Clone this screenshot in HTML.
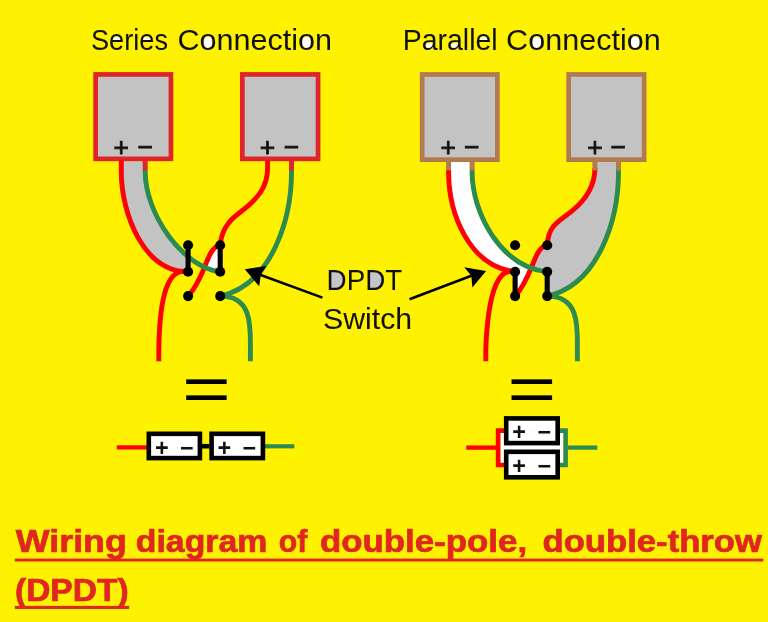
<!DOCTYPE html>
<html lang="en"><head><meta charset="utf-8"><title>Wiring diagram of double-pole, double-throw (DPDT)</title>
<style>
html,body{margin:0;padding:0;background:#FFF200;}
body{width:768px;height:622px;overflow:hidden;}
svg{display:block;will-change:transform;font-family:"Liberation Sans",Arial,sans-serif;}
.ttl{font-size:28.6px;fill:#111;}
.lbl{font-size:28.8px;fill:#111;}
.pm{font-size:26.4px;text-anchor:middle;fill:#111;stroke:#111;stroke-width:0.8px;}
.eq{font-size:62.5px;fill:#000;stroke:#000;stroke-width:0.25px;}
.pb{font-size:23.4px;font-weight:bold;text-anchor:middle;fill:#111;}
.cap{font-size:31px;font-weight:bold;fill:#E0261E;stroke:#E0261E;stroke-width:0.7px;}
</style></head><body>
<svg width="768" height="622" viewBox="0 0 768 622">
<rect width="768" height="622" fill="#FFF200"/>

<ellipse cx="208.0" cy="42.4" rx="4.9" ry="5.7" fill="#fff"/>
<ellipse cx="306.5" cy="42.4" rx="4.9" ry="5.7" fill="#fff"/>
<ellipse cx="536.7" cy="42.4" rx="4.9" ry="5.7" fill="#fff"/>
<ellipse cx="635.2" cy="42.4" rx="4.9" ry="5.7" fill="#fff"/>
<path d="M111.8,41.9 a4.9,5.1 0 0 1 9.8,0 z" fill="#fff"/>
<path d="M142.0,41.9 a4.9,5.1 0 0 1 9.8,0 z" fill="#fff"/>
<path d="M478.5,41.9 a4.9,5.1 0 0 1 9.8,0 z" fill="#fff"/>
<ellipse cx="429.3" cy="45.4" rx="3.8" ry="2.3" fill="#fff"/>
<ellipse cx="454.6" cy="45.4" rx="3.8" ry="2.3" fill="#fff"/>
<text class="ttl" y="49.7"><tspan x="91.0" textLength="77" lengthAdjust="spacingAndGlyphs">Series</tspan> <tspan x="177.4" textLength="154.6" lengthAdjust="spacingAndGlyphs">Connection</tspan></text>
<text class="ttl" y="49.7"><tspan x="402.7" textLength="95" lengthAdjust="spacingAndGlyphs">Parallel</tspan> <tspan x="506.1" textLength="154.6" lengthAdjust="spacingAndGlyphs">Connection</tspan></text>
<polygon fill="#C3C3C3" points="121.3,161.2 121.3,172.0 121.3,174.1 121.4,176.2 121.5,178.4 121.6,180.6 121.8,182.8 122.0,185.0 122.2,187.3 122.5,189.5 122.8,191.8 123.2,194.1 123.6,196.3 124.0,198.6 124.5,200.9 125.0,203.2 125.6,205.5 126.2,207.8 126.8,210.1 127.5,212.4 128.2,214.7 128.9,216.9 129.7,219.2 130.5,221.4 131.4,223.6 132.3,225.8 133.2,227.9 134.2,230.1 135.2,232.2 136.3,234.3 137.4,236.3 138.5,238.3 139.6,240.3 140.9,242.3 142.1,244.2 143.4,246.0 144.7,247.8 146.1,249.6 147.5,251.3 148.9,253.0 150.4,254.6 151.9,256.1 153.5,257.6 155.0,259.0 156.7,260.4 158.4,261.7 160.1,262.9 161.8,264.1 163.6,265.2 165.4,266.2 167.3,267.1 169.2,268.0 171.1,268.8 173.1,269.5 175.1,270.1 177.2,270.6 179.3,271.0 181.4,271.4 183.6,271.6 185.8,271.8 188.1,271.8 188.1,271.8 188.1,256.7 186.5,255.4 184.8,253.9 183.1,252.3 181.4,250.7 179.8,249.1 178.2,247.4 176.6,245.7 175.0,243.9 173.4,242.1 171.9,240.2 170.5,238.4 169.0,236.4 167.6,234.5 166.2,232.5 164.8,230.5 163.5,228.5 162.3,226.4 161.0,224.3 159.8,222.2 158.7,220.1 157.5,217.9 156.5,215.8 155.4,213.6 154.4,211.4 153.5,209.2 152.6,207.0 151.7,204.8 150.9,202.6 150.2,200.4 149.4,198.1 148.8,195.9 148.2,193.7 147.6,191.5 147.1,189.3 146.7,187.1 146.3,184.9 146.0,182.7 145.7,180.5 145.5,178.4 145.3,176.2 145.2,174.1 145.2,172.0 145.2,161.2"/>
<polygon fill="#fff" points="220.2,244.0 219.5,244.2 218.8,244.5 218.1,244.8 217.5,245.2 216.9,245.6 216.3,246.0 215.7,246.5 215.2,247.0 214.6,247.5 214.1,248.0 213.6,248.6 213.1,249.3 212.6,249.9 212.1,250.6 211.7,251.3 211.2,252.0 210.8,252.8 210.3,253.6 209.9,254.4 209.5,255.2 209.1,256.1 208.7,256.9 208.3,257.8 207.9,258.7 207.5,259.7 207.1,260.6 206.7,261.6 206.3,262.6 205.9,263.6 205.5,264.6 205.1,265.6 204.7,266.7 204.5,267.1 204.8,267.2 206.7,268.1 208.6,268.8 210.5,269.5 212.4,270.1 214.4,270.7 216.3,271.1 218.2,271.5 220.2,271.8 220.2,271.8 220.2,245.2"/>
<rect x="95.65" y="74.45" width="75.30" height="84.40" fill="#C3C3C3" stroke="#E0242B" stroke-width="4.7"/>
<rect x="242.35" y="74.45" width="75.70" height="84.40" fill="#C3C3C3" stroke="#E0242B" stroke-width="4.7"/>
<g fill="none" stroke-width="4.9" transform="translate(0,0)">
<path d="M121.30,160.70 L121.30,172.00 C121.30,213.13 143.33,271.84 188.10,271.80" stroke="#FF0000"/>
<path d="M267.60,160.70 L267.60,168.00 C267.60,187.75 256.70,199.07 243.50,209.70 C236.26,215.52 221.95,223.86 220.30,244.50 C206.02,248.28 206.42,275.93 188.10,296.10" stroke="#FF0000"/>
<path d="M188.10,271.80 C162.43,264.99 159.30,316.60 158.80,350.00 V361.3" stroke="#FF0000"/>
<path d="M145.20,169.90 L145.20,172.00 C145.20,213.15 181.77,266.82 220.20,271.80" stroke="#2E8B50"/>
<path d="M291.50,169.90 L291.50,172.00 C291.50,217.68 272.31,284.78 220.20,296.10" stroke="#2E8B50"/>
<path d="M220.20,296.10 C253.10,295.84 250.40,328.18 250.40,350.00 V361.3" stroke="#2E8B50"/>
<path d="M145.20,160.70 V170.40" stroke="#E0242B" stroke-width="5"/>
<path d="M291.50,160.70 V170.40" stroke="#E0242B" stroke-width="5"/>
</g>
<path d="M188.10,245.20 V271.80" stroke="#000" stroke-width="5.1"/>
<circle cx="188.10" cy="245.20" r="5.05"/>
<circle cx="188.10" cy="271.80" r="5.05"/>
<circle cx="188.10" cy="296.10" r="5.05"/>
<path d="M220.20,245.20 V271.80" stroke="#000" stroke-width="5.1"/>
<circle cx="220.20" cy="245.20" r="5.05"/>
<circle cx="220.20" cy="271.80" r="5.05"/>
<circle cx="220.20" cy="296.10" r="5.05"/>
<polygon fill="#fff" points="448.6,162.0 448.6,172.0 448.6,174.1 448.7,176.3 448.8,178.5 448.9,180.7 449.0,182.9 449.2,185.1 449.5,187.3 449.8,189.5 450.1,191.7 450.4,194.0 450.8,196.2 451.2,198.4 451.7,200.7 452.2,202.9 452.7,205.1 453.3,207.3 453.9,209.5 454.5,211.7 455.2,213.9 455.9,216.1 456.7,218.2 457.5,220.3 458.3,222.5 459.2,224.5 460.1,226.6 461.1,228.7 462.0,230.7 463.1,232.7 464.1,234.6 465.3,236.6 466.4,238.5 467.6,240.4 468.8,242.2 470.1,244.0 471.4,245.7 472.7,247.5 474.1,249.1 475.6,250.8 477.0,252.3 478.5,253.9 480.1,255.4 481.7,256.8 483.3,258.2 485.0,259.5 486.7,260.8 488.5,262.0 490.3,263.2 492.1,264.3 494.0,265.3 495.9,266.3 497.9,267.2 499.9,268.0 501.9,268.8 504.0,269.5 506.1,270.1 508.3,270.6 510.5,271.1 512.8,271.5 515.1,271.8 515.1,271.8 515.1,296.1 515.1,296.1 516.0,295.1 516.9,294.0 517.8,293.0 518.6,291.9 519.4,290.8 520.1,289.7 520.9,288.7 521.6,287.6 522.3,286.5 523.0,285.3 523.6,284.2 524.2,283.1 524.8,282.0 525.4,280.9 526.0,279.8 526.5,278.7 527.1,277.5 527.6,276.4 528.1,275.3 528.6,274.2 529.0,273.1 529.5,272.0 530.0,270.9 530.4,269.8 530.8,268.8 531.2,268.0 529.5,267.3 527.4,266.4 525.4,265.5 523.4,264.4 521.4,263.3 519.4,262.2 517.5,261.0 515.7,259.7 513.8,258.4 512.0,257.0 510.2,255.6 508.5,254.1 506.8,252.5 505.1,250.9 503.5,249.3 501.9,247.6 500.3,245.9 498.8,244.2 497.3,242.4 495.9,240.5 494.5,238.6 493.1,236.7 491.8,234.8 490.5,232.8 489.3,230.8 488.1,228.8 486.9,226.7 485.8,224.6 484.7,222.5 483.6,220.4 482.6,218.3 481.7,216.1 480.8,213.9 479.9,211.7 479.1,209.5 478.3,207.3 477.6,205.1 476.9,202.9 476.2,200.7 475.6,198.4 475.1,196.2 474.6,194.0 474.1,191.7 473.7,189.5 473.3,187.3 473.0,185.1 472.7,182.8 472.5,180.6 472.3,178.5 472.2,176.3 472.1,174.1 472.1,172.0 472.1,162.0"/>
<polygon fill="#C3C3C3" points="594.9,162.0 594.9,168.0 594.9,168.9 594.9,169.9 594.8,170.8 594.8,171.7 594.7,172.6 594.6,173.6 594.5,174.4 594.4,175.3 594.3,176.2 594.1,177.1 593.9,177.9 593.8,178.8 593.6,179.6 593.4,180.5 593.1,181.3 592.9,182.1 592.7,183.0 592.4,183.8 592.1,184.6 591.8,185.4 591.5,186.1 591.2,186.9 590.9,187.7 590.5,188.5 590.2,189.2 589.8,190.0 589.4,190.7 589.0,191.4 588.6,192.2 588.2,192.9 587.8,193.6 587.3,194.3 586.9,195.0 586.4,195.7 586.0,196.4 585.5,197.1 585.0,197.8 584.5,198.5 583.9,199.1 583.4,199.8 582.9,200.4 582.3,201.1 581.8,201.7 581.2,202.4 580.6,203.0 580.0,203.6 579.4,204.3 578.8,204.9 578.2,205.5 577.6,206.1 576.9,206.7 576.3,207.3 575.6,207.9 574.9,208.5 574.3,209.1 573.6,209.7 572.9,210.3 572.2,210.8 571.5,211.4 571.5,211.4 570.9,211.9 570.3,212.4 569.7,212.8 569.1,213.3 568.5,213.7 567.9,214.2 567.3,214.6 566.7,215.0 566.1,215.4 565.6,215.9 565.0,216.3 564.4,216.7 563.8,217.1 563.3,217.5 562.7,217.9 562.2,218.3 561.6,218.7 561.1,219.1 560.6,219.5 560.0,220.0 559.5,220.4 559.0,220.8 558.5,221.2 558.0,221.6 557.5,222.1 557.0,222.5 556.5,223.0 556.1,223.4 555.6,223.9 555.2,224.3 554.7,224.8 554.3,225.3 553.9,225.8 553.5,226.3 553.1,226.8 552.7,227.4 552.3,227.9 551.9,228.5 551.6,229.0 551.2,229.6 550.9,230.2 550.6,230.9 550.3,231.5 550.0,232.2 549.7,232.8 549.4,233.5 549.2,234.2 548.9,235.0 548.7,235.7 548.5,236.5 548.3,237.3 548.1,238.1 548.0,238.9 547.8,239.8 547.7,240.7 547.6,241.6 547.5,242.5 547.4,243.5 547.3,244.5 547.2,244.0 546.5,244.2 545.8,244.5 545.1,244.8 544.5,245.2 543.9,245.6 543.3,246.0 542.7,246.5 542.2,247.0 541.6,247.5 541.1,248.0 540.6,248.6 540.1,249.3 539.6,249.9 539.1,250.6 538.7,251.3 538.2,252.0 537.8,252.8 537.3,253.6 536.9,254.4 536.5,255.2 536.1,256.1 535.7,256.9 535.3,257.8 534.9,258.7 534.5,259.7 534.1,260.6 533.7,261.6 533.3,262.6 532.9,263.6 532.5,264.6 532.1,265.6 531.7,266.7 531.3,267.7 531.2,268.0 531.6,268.1 533.7,268.9 535.9,269.6 538.1,270.2 540.3,270.7 542.6,271.1 544.9,271.5 547.2,271.8 547.2,271.8 547.2,296.1 547.2,296.1 549.8,295.5 552.4,294.8 554.9,294.0 557.3,293.1 559.7,292.1 562.1,291.0 564.4,289.8 566.6,288.6 568.8,287.3 570.9,285.9 573.0,284.5 575.0,282.9 577.0,281.3 578.9,279.6 580.8,277.9 582.6,276.1 584.4,274.3 586.1,272.4 587.8,270.4 589.4,268.4 590.9,266.3 592.5,264.2 593.9,262.0 595.4,259.8 596.8,257.5 598.1,255.2 599.4,252.9 600.6,250.5 601.8,248.1 603.0,245.7 604.1,243.3 605.1,240.8 606.1,238.3 607.1,235.7 608.0,233.2 608.9,230.6 609.8,228.0 610.6,225.4 611.3,222.8 612.1,220.2 612.8,217.6 613.4,215.0 614.0,212.3 614.6,209.7 615.1,207.1 615.6,204.5 616.0,201.9 616.4,199.3 616.8,196.7 617.1,194.1 617.4,191.6 617.7,189.0 617.9,186.5 618.1,184.0 618.2,181.6 618.3,179.1 618.4,176.7 618.5,174.3 618.5,172.0 618.5,162.0"/>
<rect x="422.15" y="74.45" width="75.20" height="85.20" fill="#C3C3C3" stroke="#B37A50" stroke-width="4.7"/>
<rect x="568.65" y="74.45" width="75.50" height="85.20" fill="#C3C3C3" stroke="#B37A50" stroke-width="4.7"/>
<g fill="none" stroke-width="4.9" transform="translate(327,0)">
<path d="M121.60,169.90 L121.60,172.00 C121.60,213.98 142.36,266.41 188.10,271.80" stroke="#FF0000"/>
<path d="M267.90,169.90 L267.90,168.00 C267.90,186.72 258.45,200.22 244.50,211.40 C232.61,220.93 221.49,224.71 220.30,244.50 C206.02,248.28 206.42,275.93 188.10,296.10" stroke="#FF0000"/>
<path d="M188.10,271.80 C165.03,264.99 159.90,316.60 158.80,350.00 V361.3" stroke="#FF0000"/>
<path d="M145.10,169.90 L145.10,172.00 C145.10,213.84 174.35,266.91 220.20,271.80" stroke="#2E8B50"/>
<path d="M291.50,169.90 L291.50,172.00 C291.50,217.68 272.31,284.78 220.20,296.10" stroke="#2E8B50"/>
<path d="M220.20,296.10 C253.10,295.84 250.40,328.18 250.40,350.00 V361.3" stroke="#2E8B50"/>
<path d="M121.60,161.50 V170.40" stroke="#B37A50" stroke-width="5"/>
<path d="M145.10,161.50 V170.40" stroke="#B37A50" stroke-width="5"/>
<path d="M267.90,161.50 V170.40" stroke="#B37A50" stroke-width="5"/>
<path d="M291.50,161.50 V170.40" stroke="#B37A50" stroke-width="5"/>
</g>
<path d="M515.10,271.80 V296.10" stroke="#000" stroke-width="5.1"/>
<circle cx="515.10" cy="245.20" r="5.05"/>
<circle cx="515.10" cy="271.80" r="5.05"/>
<circle cx="515.10" cy="296.10" r="5.05"/>
<path d="M547.20,271.80 V296.10" stroke="#000" stroke-width="5.1"/>
<circle cx="547.20" cy="245.20" r="5.05"/>
<circle cx="547.20" cy="271.80" r="5.05"/>
<circle cx="547.20" cy="296.10" r="5.05"/>
<text x="121.2" y="156.2" class="pm">+</text><text x="145.3" y="156.2" class="pm">−</text>
<text x="267.5" y="156.2" class="pm">+</text><text x="291.4" y="156.2" class="pm">−</text>
<text x="448.1" y="156.2" class="pm">+</text><text x="471.8" y="156.2" class="pm">−</text>
<text x="594.9" y="156.2" class="pm">+</text><text x="618.1" y="156.2" class="pm">−</text>
<g stroke="#000" stroke-width="2.6"><path d="M322.4,297.6 L258,274"/><path d="M409.5,299.3 L474,274.8"/></g>
<polygon points="244.8,269.3 266.3,265.9 260.8,274.9 259.2,286.3"/>
<polygon points="486.1,271 464.2,267.3 471.3,275.7 472.4,287.4"/>
<path fill="#C6C6CA" transform="translate(0,0)" d="M331,271.8 L337.2,271.8 C341.6,272 344,275.8 344,280 C344,284.2 341.6,288 337.2,288.2 L331,288.2 Z"/>
<path fill="#C6C6CA" transform="translate(39,0)" d="M331,271.8 L337.2,271.8 C341.6,272 344,275.8 344,280 C344,284.2 341.6,288 337.2,288.2 L331,288.2 Z"/>
<text class="lbl" x="326.6" y="290.3" textLength="75.6" lengthAdjust="spacingAndGlyphs">DPDT</text>
<text class="lbl" x="323.0" y="328.7" textLength="89.2" lengthAdjust="spacingAndGlyphs">Switch</text>
<text class="eq" transform="translate(182.27,410.55) scale(1.323,1)">=</text>
<text class="eq" transform="translate(507.77,410.55) scale(1.323,1)">=</text>
<g fill="none" stroke-width="4.2"><path d="M116.8,447.4 H147" stroke="#FF0000"/><path d="M265,446.3 H294.3" stroke="#2E8B50"/><path d="M202,446.2 H209.5" stroke="#000" stroke-width="4.6"/></g>
<rect x="148.80" y="433.80" width="51.10" height="24.30" fill="#fff" stroke="#000" stroke-width="4.6"/>
<rect x="211.60" y="433.80" width="51.30" height="24.30" fill="#fff" stroke="#000" stroke-width="4.6"/>
<text x="161.8" y="455.5" class="pb">+</text><text x="186.8" y="455.5" class="pb">−</text>
<text x="224.4" y="455.5" class="pb">+</text><text x="249.4" y="455.5" class="pb">−</text>
<rect x="500.4" y="432.6" width="63" height="30.6" fill="#fff"/>
<g fill="none" stroke-width="4.3"><path d="M466.3,447.6 H496" stroke="#FF0000"/><path d="M567.5,447.6 H597.3" stroke="#2E8B50"/>
<path d="M505,430.6 H498.1 V465 H505" stroke="#FF0000" stroke-width="4.6"/><path d="M559,430.6 H565.6 V465 H559" stroke="#2E8B50" stroke-width="4.6"/></g>
<rect x="506.20" y="418.40" width="51.50" height="24.70" fill="#fff" stroke="#000" stroke-width="4.6"/>
<rect x="506.20" y="451.80" width="51.50" height="25.50" fill="#fff" stroke="#000" stroke-width="4.6"/>
<text x="519.2" y="440.2" class="pb">+</text><text x="544.4" y="440.2" class="pb">−</text>
<text x="519.2" y="474.4" class="pb">+</text><text x="544.4" y="474.4" class="pb">−</text>
<text class="cap" y="552.3"><tspan x="15.8" textLength="111.0" lengthAdjust="spacingAndGlyphs">Wiring</tspan> <tspan x="135.8" textLength="131.6" lengthAdjust="spacingAndGlyphs">diagram</tspan> <tspan x="278.7" textLength="28.5" lengthAdjust="spacingAndGlyphs">of</tspan> <tspan x="319.9" textLength="207.2" lengthAdjust="spacingAndGlyphs">double-pole,</tspan> <tspan x="542.5" textLength="219.5" lengthAdjust="spacingAndGlyphs">double-throw</tspan></text>
<rect x="14.8" y="558.6" width="748.5" height="2.9" fill="#E0261E"/>
<text class="cap" x="15.0" y="601.0" textLength="113.6" lengthAdjust="spacingAndGlyphs">(DPDT)</text>
<rect x="14.8" y="605.9" width="114.4" height="3.1" fill="#E0261E"/>
</svg></body></html>
